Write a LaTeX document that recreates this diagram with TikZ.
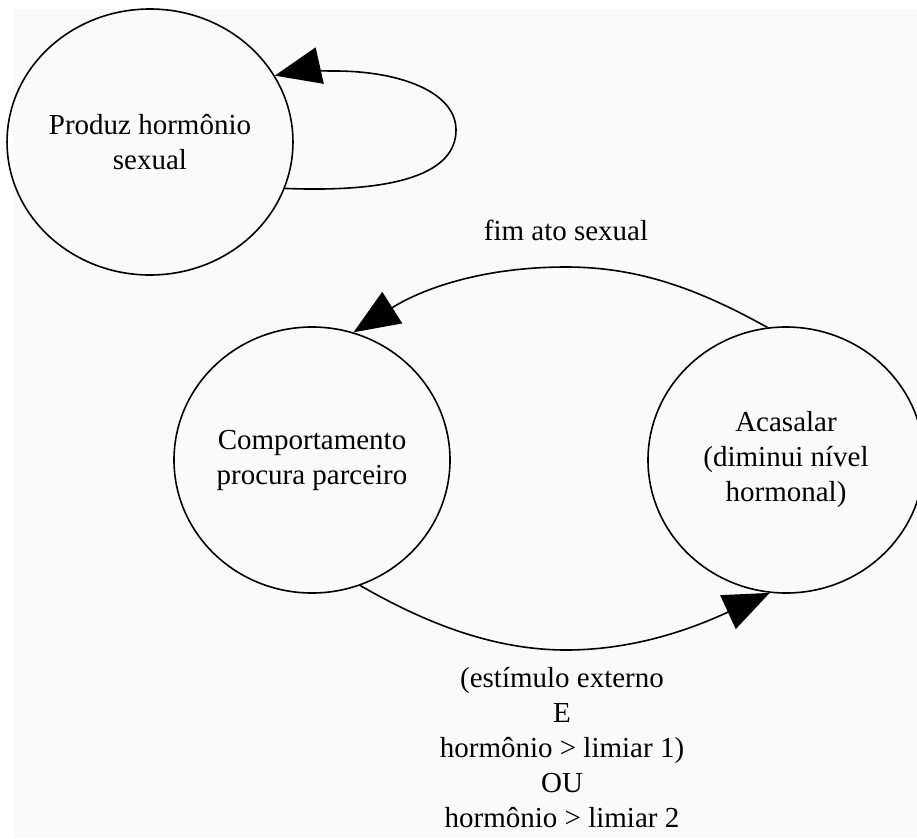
\documentclass[tikz,border=0pt]{standalone}
\usepackage{fontspec}
\setmainfont{Liberation Serif}
\usetikzlibrary{shapes.geometric,arrows.meta}
\definecolor{paper}{HTML}{FAFAFA}
\begin{document}
\begin{tikzpicture}[x=1pt,y=-1pt,
  state/.style={draw, line width=1.6pt, ellipse, minimum width=276pt,
    minimum height=266pt, inner sep=0pt, align=center,
    font=\fontsize{29}{35}\selectfont},
  trans/.style={draw, line width=1.6pt, -{Triangle[length=46pt,width=37pt]}},
  lbl/.style={align=center, font=\fontsize{29}{35}\selectfont}]
\useasboundingbox (0,0) rectangle (917,838);
\fill[white] (0,0) rectangle (917,838);
\fill[paper] (13,9) rectangle (917,838);
\clip (0,0) rectangle (917,838);

% states
\node[state] (horm) at (150,142) {Produz hormônio\\sexual};
\node[state] (busca) at (312,460) {Comportamento\\procura parceiro};
\node[state] (acas) at (786,460) {Acasalar\\(diminui nível\\hormonal)};

% self loop on the hormone state
\draw[trans] (horm.-19) .. controls (400,193) and (456,172) .. (456,130)
  .. controls (456,92) and (400,71) .. (335,71)
  .. controls (315,71) and (300,70) .. (horm.28);

% mating ends: back to searching
\draw[trans] (acas.98) .. controls (700,290) and (640,267) .. (566,267)
  .. controls (480,267) and (420,290) .. (busca.72);
\node[lbl] (fim) at (566,230) {fim ato sexual};

% searching -> mating
\draw[trans] (busca.-69) .. controls (420,620) and (490,650) .. (566,650)
  .. controls (640,650) and (700,625) .. (acas.-97);
\node[lbl] (cond) at (562,748) {(estímulo externo\\E\\hormônio > limiar 1)\\OU\\hormônio > limiar 2};
\end{tikzpicture}
\end{document}
